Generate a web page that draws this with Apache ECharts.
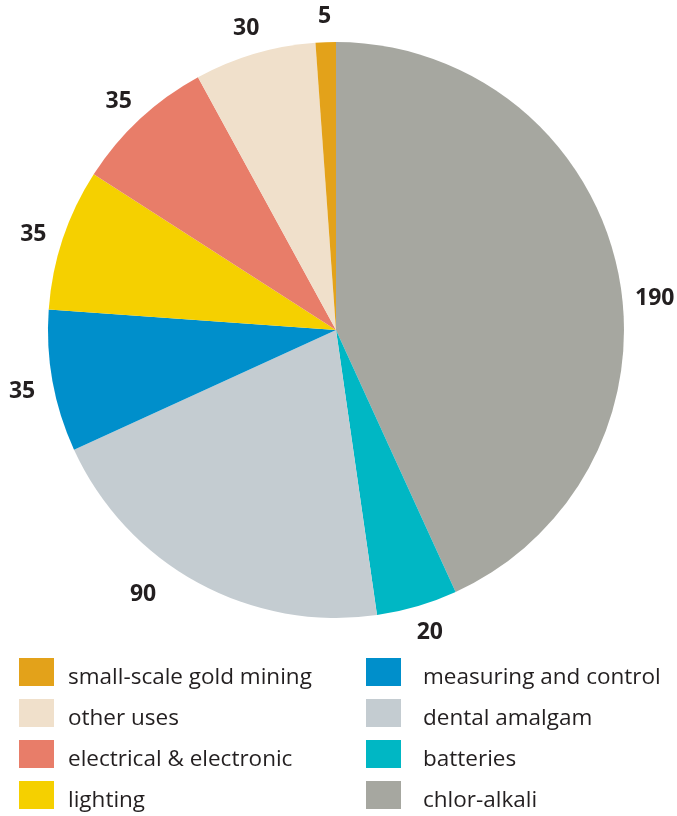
<!DOCTYPE html>
<html>
<head>
<meta charset="utf-8">
<script src="https://cdn.jsdelivr.net/npm/echarts@6/dist/echarts.min.js"></script>
<style>html,body{margin:0;padding:0;background:#fff;}#c{width:677px;height:816px;}</style>
</head>
<body>
<div id="c"></div>
<script>
const categories = ['chlor-alkali', 'batteries', 'dental amalgam', 'measuring and control', 'lighting', 'electrical & electronic', 'other uses', 'small-scale gold mining'];
const values = [190, 20, 90, 35, 35, 35, 30, 5];
const colors = ['#A6A7A0', '#00B7C4', '#C4CCD1', '#008FCB', '#F5D000', '#E87D69', '#F0E0CB', '#E3A21A'];
const legendLeft = ['small-scale gold mining', 'other uses', 'electrical & electronic', 'lighting'];
const legendRight = ['measuring and control', 'dental amalgam', 'batteries', 'chlor-alkali'];
// label nudges (style only)
const labelOffsets = { 'chlor-alkali': [7, 36], 'dental amalgam': [-40, -16], 'batteries': [4, -4] };

const data = categories.map((n, i) => ({ name: n, value: values[i], itemStyle: { color: colors[i] } }));
const chart = echarts.init(document.getElementById('c'), null, { renderer: 'canvas' });
function legendCommon(gap) {
  return {
    orient: 'vertical', icon: 'rect', itemWidth: 35, itemHeight: 28, itemGap: 9.5,
    selectedMode: false, padding: 0, height: 200,
    formatter: '{t|{name}}',
    textStyle: {
      fontFamily: 'Open Sans', fontSize: 22.5, color: '#231f20',
      rich: { t: { fontFamily: 'Open Sans', fontSize: 22.5, color: '#231f20', padding: [12, 0, 0, gap] } }
    }
  };
}
chart.setOption({
  animation: false,
  legend: [
    Object.assign({ left: 19, top: 658, data: legendLeft }, legendCommon(9)),
    Object.assign({ left: 366, top: 658, data: legendRight }, legendCommon(17))
  ],
  series: [
    {
      type: 'pie', center: [336, 330], radius: 288, startAngle: 90, clockwise: true,
      silent: true,
      label: { show: false }, labelLine: { show: false },
      itemStyle: { borderWidth: 0 },
      data: data
    },
    {
      type: 'pie', center: [336, 330], radius: [296, 336], startAngle: 90, clockwise: true,
      silent: true,
      itemStyle: { color: 'transparent', borderWidth: 0 },
      label: { show: true, position: 'inside', formatter: '{c}', fontFamily: 'Open Sans', fontWeight: 'bold', fontSize: 23, color: '#231f20', offset: [0, 5] },
      labelLine: { show: false },
      data: categories.map((n, i) => ({
        name: n, value: values[i], itemStyle: { color: 'rgba(0,0,0,0)' },
        label: labelOffsets[n] ? { offset: labelOffsets[n] } : undefined
      }))
    }
  ]
});
</script>
</body>
</html>
